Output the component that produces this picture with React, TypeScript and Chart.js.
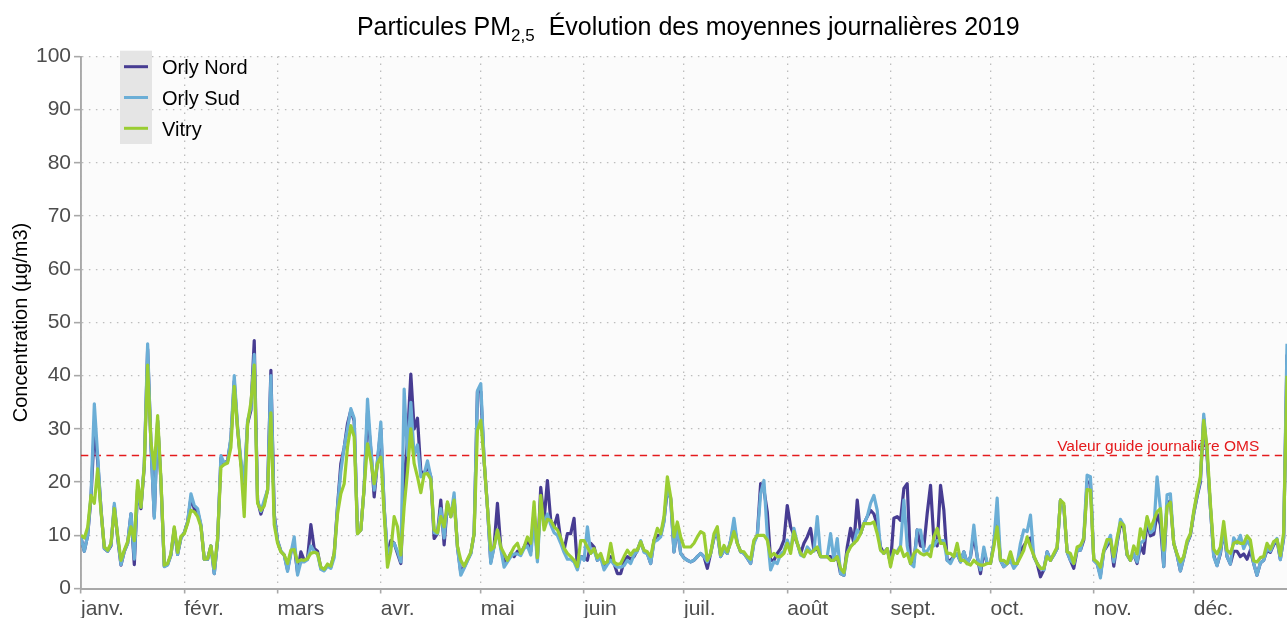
import { useEffect, useRef } from "react";
import { Chart, registerables } from "chart.js";

Chart.register(...registerables);

const FONT = '"Liberation Sans", Arial, Helvetica, sans-serif';

const MONTH_LABELS = ["janv.", "févr.", "mars", "avr.", "mai", "juin", "juil.", "août", "sept.", "oct.", "nov.", "déc."];
const MONTH_LENGTHS = [31, 28, 31, 30, 31, 30, 31, 31, 30, 31, 30, 31];
const Y_MIN = 0;
const Y_MAX = 100;
const Y_STEP = 10;
const X_VIEW_MAX = 362; // last visible day index (plot is cut at the right edge)
const OMS_GUIDE = 25;
const OMS_LABEL = "Valeur guide journalière OMS";
const OMS_LABEL_DAY = 293;
const TITLE_MAIN = "Particules PM";
const TITLE_SUB = "2,5";
const TITLE_REST = "  Évolution des moyennes journalières 2019";
const Y_TITLE = "Concentration (µg/m3)";

// daily means, one line per month (Jan 1 = index 0)
const ORLY_NORD = [
  9.5, 7, 10, 17, 30, 24, 15, 7.5, 7, 8, 15.5, 9.5, 4.4, 7, 8.5, 14, 4.5, 19, 15, 23, 45, 27, 13.5, 31.5, 20, 4.2, 4.5, 6.3, 11.2, 6.4, 9.5,
  10.5, 12.5, 17, 15, 14.5, 11.8, 5.5, 5.5, 8, 2.8, 9, 24.5, 23.5, 24, 28, 39, 30, 23.5, 19.5, 31, 33.5, 46.6, 16.5, 14, 16, 18.5, 41, 14,
  9, 7, 6.3, 3.5, 6.8, 8, 3, 6.9, 5.3, 5.6, 12, 7.5, 7, 3.8, 3.5, 4.4, 4, 6.6, 15.5, 23.5, 26.5, 31, 33.5, 31.5, 10.5, 11, 19, 33, 26, 17.2, 24,
  30, 15, 6, 9, 8.5, 6.6, 4.7, 20, 28, 40.3, 30, 32, 22, 21.6, 23, 21, 9.4, 10.3, 16.6, 8.2, 16, 13.5, 17, 7.8, 3, 4, 5.3, 6.6, 10.3, 37,
  37, 24, 15.3, 5, 8, 16, 7.8, 5, 5.3, 6.6, 6, 7, 6.6, 7.8, 9, 7, 14.7, 5.6, 19, 12.8, 20.3, 12.8, 11.6, 13.8, 9.1, 7.2, 10.3, 10.3, 13.2, 4, 6,
  5.8, 5.3, 8.5, 7.8, 5.3, 6, 4, 4.7, 6, 4.7, 2.8, 2.8, 5, 6, 5.5, 6, 7.2, 8.8, 7, 6.6, 4.7, 9.1, 10, 10, 12.8, 18.5, 17, 6.9, 11.5, 6.6,
  5.8, 5.3, 5, 5.3, 6, 6.6, 6, 3.8, 6.6, 9.5, 10.5, 6, 7.2, 6.6, 9, 12, 8.5, 6.9, 6.6, 5.7, 4.7, 8.8, 10, 19.7, 18.5, 14.4, 5.3, 5.3, 6.6, 7.5, 9.1,
  15.6, 11.6, 10, 8.5, 6.6, 8.5, 9.7, 11.3, 7.2, 7.5, 6, 6, 6, 6, 5.3, 6, 2.8, 2.5, 7.8, 11.3, 8.5, 16.6, 10.3, 12.2, 13.5, 14.7, 14, 12, 7.8, 6.6, 7.5,
  4.7, 13.2, 13.5, 12.8, 18.8, 19.7, 4.7, 5, 11, 8, 7.8, 14.1, 19.4, 9.1, 8, 19.4, 14.7, 5.3, 5.3, 6, 6.5, 5, 6.9, 4.7, 6, 10, 6, 2.8, 7, 4.7,
  4.7, 8.5, 13, 5.3, 4.1, 4.7, 5.3, 4.2, 4.7, 7.2, 8, 9, 9.5, 6, 4.7, 2.2, 3.5, 6.9, 5.3, 6.3, 7.5, 16.6, 15.5, 6.9, 5.3, 3.8, 7.2, 7.2, 9.1, 20, 20,
  5.3, 4.7, 2.5, 7, 8, 9.5, 4.2, 8.5, 12, 11.5, 6.3, 5.3, 6.5, 4.7, 8, 6.6, 12.5, 9.9, 10.2, 14, 12, 4.1, 16, 16.5, 8.5, 6.3, 3.3, 5.8, 8.5, 10,
  14, 17.2, 20, 32, 25, 15.3, 6.3, 4.3, 6.5, 11, 6, 4.6, 7, 7, 6, 6.5, 5.5, 7.2, 4.7, 2.5, 4.8, 5.3, 7.2, 6.8, 8.2, 9.1, 5.5, 9.5, 44,
];

const ORLY_SUD = [
  9.5, 7, 10, 17.5, 34.7, 25, 14.7, 7.5, 7, 8.2, 16, 9.7, 4.5, 7, 8.5, 14.1, 5.5, 19, 15.3, 23.5, 46, 27, 13.2, 31.6, 20, 4.1, 4.4, 6.3, 11.4, 6.4, 9.5,
  10.5, 12.5, 17.8, 15.6, 15, 12, 5.5, 5.5, 8, 2.8, 9, 25, 23.5, 23.8, 28.5, 40, 30.5, 24, 20, 31.6, 34, 44, 16.6, 14.5, 16.6, 18.5, 40, 13.5,
  9, 7, 6.3, 3.2, 6.6, 9.7, 2.5, 5, 5, 5.4, 8, 7, 6.5, 3.6, 3.3, 4.2, 3.8, 5.8, 15.3, 22, 26.6, 30, 33.8, 32, 10.3, 11, 19, 35.6, 26.6, 18.5, 24,
  31.3, 15.3, 6.6, 7.8, 8.5, 7, 5, 37.5, 25, 35, 25, 27, 21, 21.5, 24, 21, 10.5, 10.3, 15, 9.5, 16, 13.5, 18, 7.8, 2.5, 3.8, 5.2, 6.5, 10.5, 37.2,
  38.5, 24, 15.3, 4.7, 7.8, 11, 7.5, 4, 5, 6, 6.5, 6.5, 6.2, 7.5, 8, 6.3, 13, 5, 16, 12, 14, 12, 10.5, 10, 8.5, 6.8, 5.5, 5.5, 5, 3.5, 6,
  5.3, 11.6, 6.6, 7.2, 5.3, 5.8, 3.5, 4.5, 5.3, 4.5, 4, 4, 4.3, 5.3, 4.7, 6.3, 7, 9, 6.8, 6.5, 4.7, 8.8, 9.1, 9.7, 12.5, 19.4, 16.6, 6.9, 11.6, 6.6,
  5.7, 5.3, 5, 5.3, 6, 6.6, 6, 5, 6.6, 9.7, 10.5, 6, 7.2, 6.6, 9.1, 13.2, 8.5, 6.9, 6.6, 5.7, 4.7, 8.5, 10, 17.8, 20.3, 10, 3.5, 5, 4.7, 6.5, 7,
  9.1, 7.2, 11.3, 8.5, 6.3, 6, 7.8, 7, 7, 13.5, 6, 6, 6, 10.3, 5.3, 9.4, 2.8, 2.5, 6.6, 8, 8.5, 11, 10.3, 12.2, 13.5, 16, 17.5, 14.7, 7.2, 6.6, 7.5,
  4.7, 7, 7, 8, 16.6, 8, 4.7, 4.1, 11, 11, 7, 7, 8, 8, 9, 9, 9, 5.3, 4.7, 6, 6.5, 5, 6.9, 4.7, 6, 11.9, 6, 3.5, 7.8, 4.7,
  4.7, 8.5, 17, 5.3, 4.1, 4.7, 5.3, 3.8, 4.7, 8.5, 11, 10.7, 13.8, 6, 4.7, 3.8, 3.5, 6.9, 5.3, 6.3, 7.5, 16.6, 15.5, 6.9, 5.3, 4.7, 7.2, 7.2, 9.7, 21.3, 21,
  5.3, 4.7, 2, 7, 8.5, 10, 5, 8.8, 13, 11.9, 6.3, 5.3, 6.5, 5, 8.5, 9, 13.3, 10.5, 11, 21, 15, 4.1, 17.6, 17.8, 8.5, 6.3, 3.3, 5.8, 8.5, 10.2,
  14.2, 17.5, 20.5, 32.8, 25.5, 15.3, 6, 4.3, 6.8, 11.2, 6, 4.6, 9.5, 8.5, 10, 7.5, 9, 8, 4.7, 2.5, 4.8, 5.3, 7.5, 7, 8.5, 9.4, 5.4, 9.7, 46,
];

const VITRY = [
  10, 9.5, 11.5, 17.5, 16, 22.5, 14.5, 7.8, 7.2, 8.5, 15, 10, 5.3, 7.2, 8.8, 11.6, 9, 20.3, 15.3, 23.2, 42, 27.5, 22.5, 32.5, 20.5, 4.4, 4.7, 6.6, 11.6, 6.8, 9.8,
  10.3, 12.2, 14.7, 14.4, 13.5, 11.6, 5.5, 5.6, 8, 3.8, 9.5, 22.8, 23.3, 23.6, 26.5, 38, 30, 23, 13.5, 31, 35, 42, 16, 14.7, 15.5, 18.5, 33, 12,
  8.5, 6.9, 6.3, 4.7, 7.2, 7.3, 5, 5.4, 5.3, 5.6, 6.6, 6.8, 6.6, 4, 3.6, 4.6, 4.2, 6.6, 14, 17.8, 19.7, 26.6, 30.6, 28.5, 10.3, 11, 19, 27.2, 24, 19.7, 23.5,
  24.7, 14, 4, 7, 13.5, 11.6, 6.3, 15.3, 22, 30, 23.5, 21, 18, 21.5, 21.6, 20.5, 11, 10.5, 13.5, 11.6, 16.3, 13.5, 16.6, 8, 5.3, 4.2, 5.5, 6.8, 10.3, 29.7,
  31.6, 24, 15.3, 7.2, 7.8, 11, 7.8, 6.6, 5.3, 6.6, 7.8, 8.5, 6.6, 7.8, 9.7, 8.5, 16.3, 5.8, 17.5, 11, 13, 12.8, 11.6, 11, 9.5, 7.6, 6.6, 6, 5.3, 4.1, 9,
  9, 7.8, 6.6, 7.5, 5.8, 6.6, 4.7, 5, 8.5, 5, 4.5, 4.7, 6, 7.2, 6.3, 7.2, 7.2, 8.8, 7.2, 6.9, 6, 9.1, 11.3, 10.3, 13.5, 21, 17.2, 9.7, 12.5, 9.7,
  7.8, 7.8, 7.8, 8.5, 9.7, 10.7, 10.3, 5.3, 6.6, 10.3, 11.6, 6.3, 8.1, 6.9, 8.5, 10.7, 8.5, 7, 6.9, 6, 5.5, 9.1, 10, 10, 10, 9.1, 6, 6.6, 6, 6, 6.6,
  8.5, 6.6, 10.7, 8.5, 6.6, 6, 7.2, 6.6, 7.2, 7.8, 6, 6, 6, 5.3, 5.3, 6, 3.8, 3, 6.6, 7.8, 8.5, 9.1, 10.3, 12.2, 12.2, 12.2, 12.5, 10.3, 7.2, 6.6, 7.5,
  4.1, 7.2, 6.6, 7.8, 6, 6.6, 4.7, 6.6, 7.2, 6.6, 6.3, 6.6, 6, 9.7, 11.3, 8.5, 8.5, 6.6, 6.6, 6, 8.5, 5.3, 5.3, 4.7, 4.4, 5.3, 4.7, 4.4, 4.4, 4.7,
  4.7, 7.8, 11.6, 5.3, 5.3, 4.7, 6.9, 4.7, 4.7, 5.9, 7.2, 9.7, 7.8, 6.2, 4.7, 3.8, 3.8, 6, 5.3, 6.6, 7.8, 16.6, 16, 6.9, 6.6, 4.7, 7.8, 8.1, 9.4, 18.6, 18.5,
  5.5, 5, 4, 7.2, 9.2, 9.2, 6, 9.5, 12.4, 11.9, 6.5, 5.3, 8, 6.5, 11.2, 9.5, 13.5, 11.2, 12.8, 14.4, 15, 7.2, 15.4, 16.2, 8.5, 6.5, 5, 6, 9, 10.3,
  14.5, 18, 21, 31.6, 26.6, 16, 7.4, 6.5, 7.8, 12.6, 7.2, 6.6, 8.5, 8.8, 8.5, 8.5, 9.9, 9.1, 5.2, 5, 5.8, 6, 8.5, 7.4, 8.8, 9.2, 6.2, 10.5, 40,
];

const SERIES_NAMES = ["Orly Nord", "Orly Sud", "Vitry"];
const SERIES_VALUES = [ORLY_NORD, ORLY_SUD, VITRY];
const SERIES_COLORS = ["#473c92", "#6baed6", "#9acd32"];

const MONTH_STARTS = MONTH_LENGTHS.reduce<number[]>((acc, len, i) => {
  acc.push(i === 0 ? 0 : acc[i - 1] + MONTH_LENGTHS[i - 1]);
  return acc;
}, []);

const GRID_COLOR = "#bdbdbd";
const AXIS_COLOR = "#a8a8a8";
const TICK_TEXT = "#4d4d4d";
const OMS_COLOR = "#e41a1c";
const LINE_WIDTH = 3.2;

const decorPlugin = {
  id: "decor",
  beforeDraw(chart: any) {
    const { ctx, chartArea: a } = chart;
    ctx.save();
    ctx.fillStyle = "#fbfbfb";
    ctx.fillRect(a.left, a.top, a.right - a.left, a.bottom - a.top);
    ctx.restore();
  },
  beforeDatasetsDraw(chart: any) {
    const { ctx, chartArea: a, scales } = chart;
    const y = scales.y.getPixelForValue(OMS_GUIDE);
    ctx.save();
    ctx.strokeStyle = OMS_COLOR;
    ctx.lineWidth = 1.7;
    ctx.setLineDash([7.3, 5.4]);
    ctx.beginPath();
    ctx.moveTo(a.left, y);
    ctx.lineTo(a.right, y);
    ctx.stroke();
    ctx.setLineDash([]);
    ctx.fillStyle = OMS_COLOR;
    ctx.font = `15.5px ${FONT}`;
    ctx.textAlign = "left";
    ctx.textBaseline = "alphabetic";
    ctx.fillText(OMS_LABEL, scales.x.getPixelForValue(OMS_LABEL_DAY), y - 5);
    ctx.restore();
  },
  afterDraw(chart: any) {
    const { ctx, chartArea: a, scales } = chart;
    ctx.save();
    // title with subscript
    const mainFont = `25px ${FONT}`;
    const subFont = `17px ${FONT}`;
    ctx.font = mainFont;
    const w1 = ctx.measureText(TITLE_MAIN).width;
    const w3 = ctx.measureText(TITLE_REST).width;
    ctx.font = subFont;
    const w2 = ctx.measureText(TITLE_SUB).width;
    const cx = scales.x.getPixelForValue(182.3);
    let tx = cx - (w1 + w2 + w3) / 2;
    const base = 35;
    ctx.fillStyle = "#000000";
    ctx.textAlign = "left";
    ctx.textBaseline = "alphabetic";
    ctx.font = mainFont;
    ctx.fillText(TITLE_MAIN, tx, base);
    tx += w1;
    ctx.font = subFont;
    ctx.fillText(TITLE_SUB, tx, base + 6);
    tx += w2;
    ctx.font = mainFont;
    ctx.fillText(TITLE_REST, tx, base);

    // y axis title
    ctx.save();
    ctx.translate(27, (a.top + a.bottom) / 2);
    ctx.rotate(-Math.PI / 2);
    ctx.font = `20px ${FONT}`;
    ctx.textAlign = "center";
    ctx.textBaseline = "alphabetic";
    ctx.fillText(Y_TITLE, 0, 0);
    ctx.restore();

    // legend
    const lx = a.left + 39;
    const ly = a.top - 5.8;
    ctx.fillStyle = "#e5e5e5";
    ctx.fillRect(lx, ly, 32, 93.3);
    SERIES_NAMES.forEach((name, i) => {
      const yy = ly + 16 + i * 30.8;
      ctx.strokeStyle = SERIES_COLORS[i];
      ctx.lineWidth = 3;
      ctx.beginPath();
      ctx.moveTo(lx + 4, yy);
      ctx.lineTo(lx + 28, yy);
      ctx.stroke();
      ctx.fillStyle = "#000000";
      ctx.font = `20px ${FONT}`;
      ctx.textAlign = "left";
      ctx.textBaseline = "alphabetic";
      ctx.fillText(name, lx + 42, yy + 7.2);
    });
    ctx.restore();
  },
};

export default function App() {
  const canvasRef = useRef<HTMLCanvasElement | null>(null);

  useEffect(() => {
    document.body.style.margin = "0";
    const canvas = canvasRef.current;
    if (!canvas) return;

    const datasets = SERIES_NAMES.map((name, i) => ({
      label: name,
      data: SERIES_VALUES[i].map((v, d) => ({ x: d, y: v })),
      borderColor: SERIES_COLORS[i],
      backgroundColor: SERIES_COLORS[i],
      borderWidth: LINE_WIDTH,
      borderJoinStyle: "round",
      pointRadius: 0,
      tension: 0,
      fill: false,
      order: SERIES_NAMES.length - 1 - i,
    }));

    const chart = new Chart(canvas, {
      type: "line",
      data: { datasets },
      plugins: [decorPlugin],
      options: {
        responsive: false,
        maintainAspectRatio: false,
        animation: false,
        devicePixelRatio: 1,
        events: [],
        layout: { padding: { top: 56.5, left: 0, right: 0, bottom: 0 } },
        plugins: {
          legend: { display: false },
          title: { display: false },
          tooltip: { enabled: false },
        },
        scales: {
          x: {
            type: "linear",
            min: 0,
            max: X_VIEW_MAX,
            afterBuildTicks: (scale: any) => {
              scale.ticks = MONTH_STARTS.map((v) => ({ value: v }));
            },
            afterFit: (scale: any) => {
              scale.height = 29.5;
            },
            ticks: {
              autoSkip: false,
              maxRotation: 0,
              minRotation: 0,
              align: "start",
              padding: 3,
              color: TICK_TEXT,
              font: { size: 21, family: FONT },
              callback: (value: any) => {
                const idx = MONTH_STARTS.indexOf(Number(value));
                return idx >= 0 ? MONTH_LABELS[idx] : "";
              },
            },
            grid: {
              color: GRID_COLOR,
              lineWidth: 1.3,
              drawTicks: true,
              tickLength: 5,
              tickColor: AXIS_COLOR,
              tickWidth: 1.6,
              tickBorderDash: [],
            },
            border: { display: true, color: AXIS_COLOR, width: 1.9, dash: [1.5, 5.5] },
          },
          y: {
            type: "linear",
            min: Y_MIN,
            max: Y_MAX,
            afterFit: (scale: any) => {
              scale.width = 81;
            },
            ticks: {
              stepSize: Y_STEP,
              padding: 3,
              color: TICK_TEXT,
              font: { size: 21, family: FONT },
            },
            grid: {
              color: GRID_COLOR,
              lineWidth: 1.3,
              drawTicks: true,
              tickLength: 7,
              tickColor: AXIS_COLOR,
              tickWidth: 1.6,
              tickBorderDash: [],
            },
            border: { display: true, color: AXIS_COLOR, width: 1.9, dash: [1.5, 5.5] },
          },
        },
      } as any,
    });

    return () => {
      chart.destroy();
    };
  }, []);

  return (
    <div style={{ width: 1287, height: 618 }}>
      <canvas ref={canvasRef} width={1287} height={618} style={{ display: "block" }} />
    </div>
  );
}
